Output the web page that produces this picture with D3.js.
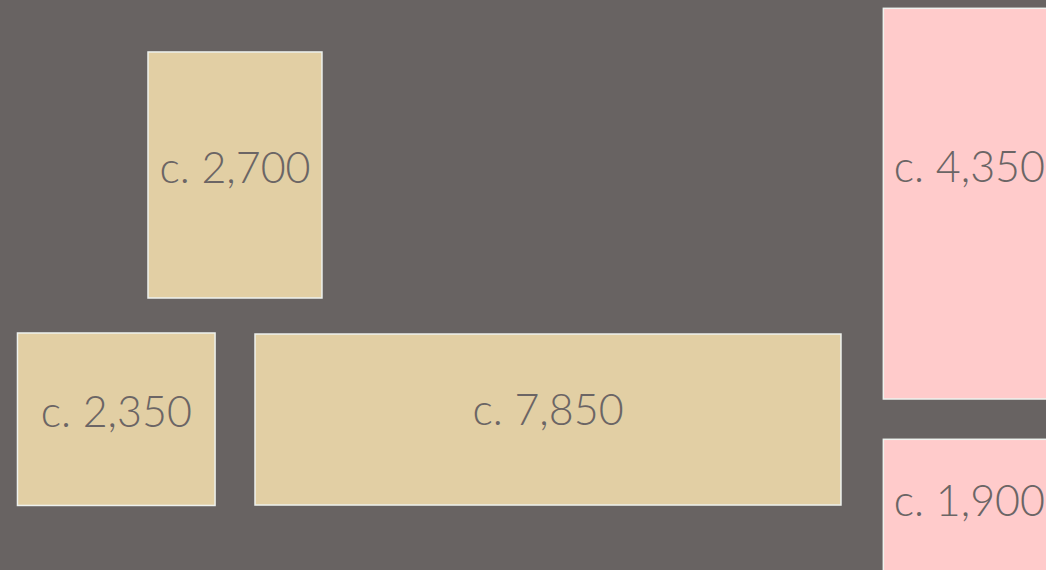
<!DOCTYPE html>
<html>
<head>
<meta charset="utf-8">
<script src="https://cdn.jsdelivr.net/npm/d3@7"></script>
<style>
  html, body { margin: 0; padding: 0; background: #686362; overflow: hidden; }
</style>
</head>
<body>
<div id="chart"></div>
<script>
// values
var labels = ["c. 2,700", "c. 2,350", "c. 7,850", "c. 4,350", "c. 1,900"];
var values = [2700, 2350, 7850, 4350, 1900];
var groups = ["tan", "tan", "tan", "pink", "pink"];

// where each box sits, in layout units (percent of the canvas)
var layout = [
  {x0: 14.15, x1: 30.78, y0: 9.12,  y1: 52.28, ty: 32.1},
  {x0: 1.67,  x1: 20.56, y0: 58.42, y1: 88.68, ty: 74.9},
  {x0: 24.38, x1: 80.4,  y0: 58.6,  y1: 88.6,  ty: 74.6},
  {x0: 84.45, x1: 100.9, y0: 1.46,  y1: 70.0,  ty: 31.9},
  {x0: 84.45, x1: 100.9, y0: 77.07, y1: 101.5, ty: 90.5}
];

var width = 1046, height = 570;

var color = d3.scaleOrdinal()
    .domain(["tan", "pink"])
    .range(["#e2cfa4", "#ffcbcb"]);

var x = d3.scaleLinear().domain([0, 100]).range([0, width]);
var y = d3.scaleLinear().domain([0, 100]).range([0, height]);

var data = values.map(function(v, i) {
  return {value: v, label: labels[i], group: groups[i], box: layout[i]};
});

var svg = d3.select("#chart")
  .append("svg")
    .attr("width", width)
    .attr("height", height);

svg.append("rect")
    .attr("width", width)
    .attr("height", height)
    .attr("fill", "#686362");

var cell = svg.selectAll("g.cell")
  .data(data)
  .enter()
  .append("g")
    .attr("class", "cell");

cell.append("rect")
    .attr("x", function(d) { return x(d.box.x0); })
    .attr("y", function(d) { return y(d.box.y0); })
    .attr("width", function(d) { return x(d.box.x1) - x(d.box.x0); })
    .attr("height", function(d) { return y(d.box.y1) - y(d.box.y0); })
    .attr("fill", function(d) { return color(d.group); })
    .attr("stroke", "#eef2ee")
    .attr("stroke-width", 1.5);

cell.append("text")
    .attr("x", function(d) { return (x(d.box.x0) + x(d.box.x1)) / 2; })
    .attr("y", function(d) { return y(d.box.ty); })
    .attr("text-anchor", "middle")
    .style("font-family", "Lato, 'Open Sans', sans-serif")
    .style("font-weight", 300)
    .style("font-size", "43px")
    .style("fill", "#6b6565")
    .text(function(d) { return d.label; });
</script>
</body>
</html>
